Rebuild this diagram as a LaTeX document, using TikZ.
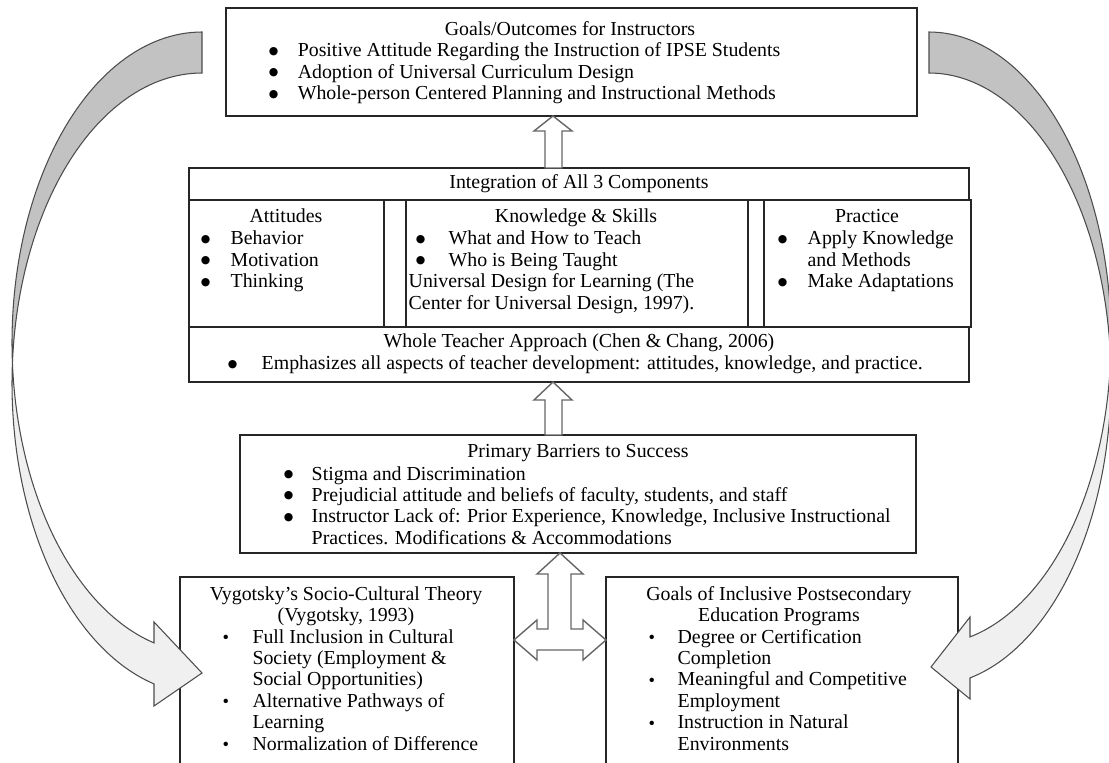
\documentclass[tikz,border=0pt]{standalone}
\usepackage{fontspec}
\setmainfont{Liberation Serif}
\newfontfamily\symfont{DejaVu Sans}
\usetikzlibrary{calc}

\newcommand{\bbul}{\makebox[4pt]{\raisebox{1.5pt}{\symfont\fontsize{6.2}{6.2}\selectfont ●}}}
\newcommand{\sbul}{\makebox[2.45pt]{\raisebox{-0.2pt}{\fontsize{10.5}{10.5}\selectfont\textbullet}}}

\begin{document}
\begin{tikzpicture}[
    % Global options: pixel grid with y running down, font size
    x=0.02cm, y=-0.02cm,
    line width=0.8pt,
    font=\fontsize{11.3}{12.2}\selectfont,
    box/.style={draw=black!85, fill=white, rectangle, inner sep=0pt, outer sep=0pt, anchor=north west},
    hollow/.style={draw=black!60, fill=white, line width=0.8pt, line join=miter},
    darkband/.style={draw=black!70, fill=black!24, line width=0.6pt},
    lightband/.style={draw=black!70, fill=black!6, line width=0.6pt},
    head/.style={inner sep=0pt, anchor=base},
    list/.style={inner sep=0pt, anchor=base west},
  ]
    \useasboundingbox (0,0) rectangle (1109,763);
    \clip (0,0) rectangle (1109,763);

    % --- Boxes ---
    \node[box, minimum width=13.82cm, minimum height=2.16cm] (goals) at (226,8) {};
    \node[box, minimum width=15.6cm, minimum height=0.64cm] (integ) at (189,168) {};
    \node[box, minimum width=3.9cm, minimum height=2.54cm] (attit) at (189,200) {};
    \node[box, minimum width=6.84cm, minimum height=2.54cm] (know) at (406,200) {};
    \node[box, minimum width=4.14cm, minimum height=2.54cm] (pract) at (764,200) {};
    \node[box, minimum width=15.6cm, minimum height=1.1cm] (whole) at (189,327) {};
    \node[box, minimum width=13.52cm, minimum height=2.36cm] (barrier) at (240,435) {};
    \node[box, minimum width=6.68cm, minimum height=4cm] (vyg) at (180,577) {};
    \node[box, minimum width=7.04cm, minimum height=4cm] (incl) at (606,577) {};

    % --- Goals/Outcomes for Instructors ---
    \node[head] (goalsH) at (570,36) {Goals/Outcomes for Instructors};
    \node[list] (goalsL) at (269.5,57) {\begin{tabular}[t]{@{}l@{\hspace{11.7pt}}l@{}}
      \bbul & Positive Attitude Regarding the Instruction of IPSE Students\\
      \bbul & Adoption of Universal Curriculum Design\\
      \bbul & Whole-person Centered Planning and Instructional Methods
    \end{tabular}};

    % --- Three components ---
    \node[head] (integH) at (579,189) {Integration of All 3 Components};

    \node[head] (attitH) at (286,223) {Attitudes};
    \node[list] (attitL) at (201.5,245) {\begin{tabular}[t]{@{}l@{\hspace{12.2pt}}l@{}}
      \bbul & Behavior\\
      \bbul & Motivation\\
      \bbul & Thinking
    \end{tabular}};

    \node[head] (knowH) at (576,223) {Knowledge \& Skills};
    \node[list] (knowL) at (416.5,245) {\begin{tabular}[t]{@{}l@{\hspace{13.9pt}}l@{}}
      \bbul & What and How to Teach\\
      \bbul & Who is Being Taught
    \end{tabular}};
    \node[list] (knowR) at (408,288) {\begin{tabular}[t]{@{}l@{}}
      Universal Design for Learning (The\\
      Center for Universal Design, 1997).
    \end{tabular}};

    \node[head] (practH) at (867,223) {Practice};
    \node[list] (practL) at (778.5,245) {\begin{tabular}[t]{@{}l@{\hspace{12.2pt}}l@{}}
      \bbul & Apply Knowledge\\
            & and Methods\\
      \bbul & Make Adaptations
    \end{tabular}};

    \node[head] (wholeH) at (579,348) {Whole Teacher Approach (Chen \& Chang, 2006)};
    \node[list] (wholeL) at (228.5,370) {\begin{tabular}[t]{@{}l@{\hspace{14.5pt}}l@{}}
      \bbul & Emphasizes all aspects of teacher development: attitudes, knowledge, and practice.
    \end{tabular}};

    % --- Primary Barriers to Success ---
    \node[head] (barrierH) at (578,458) {Primary Barriers to Success};
    \node[list] (barrierL) at (284.5,480) {\begin{tabular}[t]{@{}l@{\hspace{11.1pt}}l@{}}
      \bbul & Stigma and Discrimination\\
      \bbul & Prejudicial attitude and beliefs of faculty, students, and staff\\
      \bbul & Instructor Lack of: Prior Experience, Knowledge, Inclusive Instructional\\
            & Practices. Modifications \& Accommodations
    \end{tabular}};

    % --- Vygotsky ---
    \node[head] (vygH) at (346,600) {\begin{tabular}[t]{@{}c@{}}
      Vygotsky’s Socio-Cultural Theory\\
      (Vygotsky, 1993)
    \end{tabular}};
    \node[list] (vygL) at (222.9,643) {\begin{tabular}[t]{@{}l@{\hspace{14pt}}l@{}}
      \sbul & Full Inclusion in Cultural\\
            & Society (Employment \&\\
            & Social Opportunities)\\
      \sbul & Alternative Pathways of\\
            & Learning\\
      \sbul & Normalization of Difference
    \end{tabular}};

    % --- Inclusive postsecondary programs ---
    \node[head] (inclH) at (779,600) {\begin{tabular}[t]{@{}c@{}}
      Goals of Inclusive Postsecondary\\
      Education Programs
    \end{tabular}};
    \node[list] (inclL) at (648.9,643) {\begin{tabular}[t]{@{}l@{\hspace{13.5pt}}l@{}}
      \sbul & Degree or Certification\\
            & Completion\\
      \sbul & Meaningful and Competitive\\
            & Employment\\
      \sbul & Instruction in Natural\\
            & Environments
    \end{tabular}};

    % --- Hollow block arrows ---
    \draw[hollow] (553,0 |- goals.south) -- ++(19,15) -- ++(-10,0)
      -- (562,0 |- integ.north) -- (545,0 |- integ.north) -- ++(0,-37) -- ++(-11,0) -- cycle;
    \draw[hollow] (553,0 |- whole.south) -- ++(19,18) -- ++(-10,0)
      -- (562,0 |- barrier.north) -- (545,0 |- barrier.north) -- ++(0,-35) -- ++(-11,0) -- cycle;
    \draw[hollow] (560,0 |- barrier.south) -- ++(23,21) -- ++(-12,0) -- ++(0,55) -- ++(12,0) -- ++(0,-9)
      -- (incl.west |- 0,640) -- (583,660) -- (583,650) -- (537,650) -- (537,660)
      -- (vyg.east |- 0,640) -- (537,620) -- (537,629) -- (548,629) -- (548,574) -- (537,574) -- cycle;

    % --- Curved arrow on the left ---
    \filldraw[darkband] plot[domain=90:183.79, samples=60] ({202+190*cos(\x)},{342.5-310.5*sin(\x)})
      -- plot[domain=176.21:90, samples=60] ({202+190*cos(\x)},{383.5-310.5*sin(\x)}) -- cycle;
    \filldraw[lightband] plot[domain=176.21:255.37, samples=60] ({202+190*cos(\x)},{383.5-310.5*sin(\x)})
      -- (154,706) -- (202,673) -- (154,622)
      -- plot[domain=255.37:183.79, samples=60] ({202+190*cos(\x)},{342.5-310.5*sin(\x)}) -- cycle;

    % --- Curved arrow on the right ---
    \filldraw[darkband] plot[domain=90:-3.84, samples=60] ({929+182*cos(\x)},{338.4-306.4*sin(\x)})
      -- plot[domain=3.84:90, samples=60] ({929+182*cos(\x)},{379.4-306.4*sin(\x)}) -- cycle;
    \filldraw[lightband] plot[domain=3.84:-76.98, samples=60] ({929+182*cos(\x)},{379.4-306.4*sin(\x)})
      -- (970,699) -- (931,667) -- (970,617)
      -- plot[domain=-76.98:-3.84, samples=60] ({929+182*cos(\x)},{338.4-306.4*sin(\x)}) -- cycle;
  \end{tikzpicture}
\end{document}
